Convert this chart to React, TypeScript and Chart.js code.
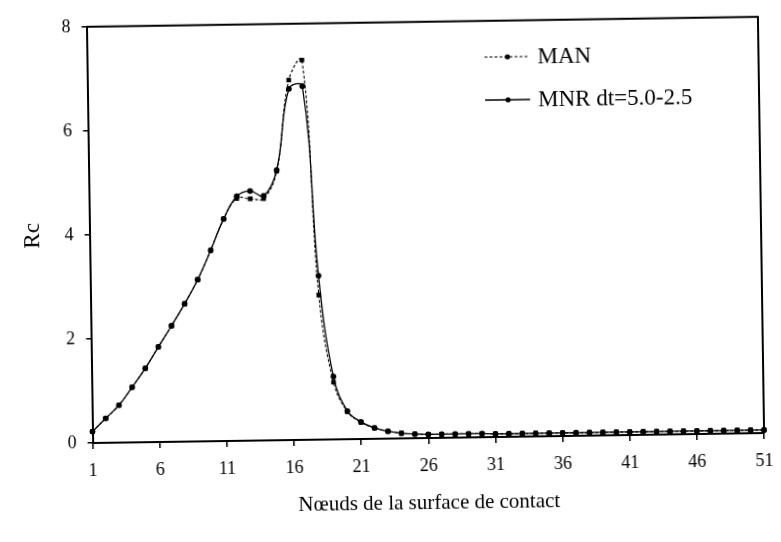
import React, { useEffect, useRef } from 'react';
import { Chart, registerables } from 'chart.js';

Chart.register(...registerables);

const nodes = [
  '1', '2', '3', '4', '5', '6', '7', '8', '9', '10',
  '11', '12', '13', '14', '15', '16', '17', '18', '19', '20',
  '21', '22', '23', '24', '25', '26', '27', '28', '29', '30',
  '31', '32', '33', '34', '35', '36', '37', '38', '39', '40',
  '41', '42', '43', '44', '45', '46', '47', '48', '49', '50', '51',
];

const xTickLabels = ['1', '6', '11', '16', '21', '26', '31', '36', '41', '46', '51'];

const manValues = [
  0.22, 0.47, 0.72, 1.06, 1.42, 1.83, 2.23, 2.65, 3.11, 3.67,
  4.27, 4.66, 4.65, 4.65, 5.17, 6.92, 7.30, 2.78, 1.10, 0.53,
  0.32, 0.21, 0.14, 0.10, 0.08, 0.07, 0.07, 0.07, 0.07, 0.07,
  0.06, 0.06, 0.06, 0.06, 0.06, 0.06, 0.06, 0.06, 0.06, 0.06,
  0.06, 0.06, 0.06, 0.06, 0.06, 0.06, 0.06, 0.06, 0.06, 0.06, 0.06,
];

const mnrValues = [
  0.22, 0.47, 0.72, 1.06, 1.42, 1.83, 2.23, 2.65, 3.11, 3.67,
  4.27, 4.70, 4.80, 4.70, 5.19, 6.75, 6.80, 3.15, 1.21, 0.54,
  0.33, 0.21, 0.14, 0.10, 0.08, 0.07, 0.07, 0.07, 0.07, 0.07,
  0.06, 0.06, 0.06, 0.06, 0.06, 0.06, 0.06, 0.06, 0.06, 0.06,
  0.06, 0.06, 0.06, 0.06, 0.06, 0.06, 0.06, 0.06, 0.06, 0.06, 0.06,
];

const seriesNames = ['MAN', 'MNR dt=5.0-2.5'];
const xTitle = 'Nœuds de la surface de contact';
const yTitle = 'Rc';
const yMin = 0;
const yMax = 8;
const yStep = 2;

const FONT = '"Liberation Serif", "DejaVu Serif", serif';

const frameAndLegend = {
  id: 'frameAndLegend',
  beforeDatasetsDraw(chart: any) {
    const { ctx, chartArea: a } = chart;
    ctx.save();
    ctx.strokeStyle = '#000';
    ctx.lineWidth = 2;
    ctx.beginPath();
    ctx.moveTo(a.left, a.top);
    ctx.lineTo(a.right, a.top);
    ctx.lineTo(a.right, a.bottom);
    ctx.stroke();
    ctx.restore();
  },
  afterDraw(chart: any) {
    const { ctx } = chart;
    ctx.save();
    chart.data.datasets.forEach((ds: any, i: number) => {
      const y = 58 + i * 43;
      ctx.strokeStyle = '#000';
      ctx.lineWidth = ds.borderWidth;
      ctx.setLineDash(ds.borderDash || []);
      ctx.beginPath();
      ctx.moveTo(487, y);
      ctx.lineTo(532, y);
      ctx.stroke();
      ctx.setLineDash([]);
      ctx.fillStyle = '#000';
      ctx.beginPath();
      ctx.arc(510, y, 2.6, 0, Math.PI * 2);
      ctx.fill();
      ctx.font = `23px ${FONT}`;
      ctx.textBaseline = 'middle';
      ctx.textAlign = 'left';
      ctx.fillText(ds.label, 540, y + 1);
    });
    ctx.restore();
  },
};

export default function App() {
  const ref = useRef<HTMLCanvasElement | null>(null);

  useEffect(() => {
    if (!ref.current) return;
    const chart = new Chart(ref.current, {
      type: 'line',
      data: {
        labels: nodes,
        datasets: [
          {
            label: seriesNames[0],
            data: manValues,
            borderColor: '#000',
            borderWidth: 1.1,
            borderDash: [3, 2],
            pointStyle: 'rect',
            pointRadius: 3.3,
            pointBackgroundColor: '#000',
            pointBorderColor: '#000',
            pointBorderWidth: 0,
            tension: 0.4,
            fill: false,
          },
          {
            label: seriesNames[1],
            data: mnrValues,
            borderColor: '#000',
            borderWidth: 1.3,
            pointStyle: 'circle',
            pointRadius: 2.9,
            pointBackgroundColor: '#000',
            pointBorderColor: '#000',
            pointBorderWidth: 0,
            tension: 0.4,
            fill: false,
          },
        ],
      },
      options: {
        responsive: false,
        animation: false,
        layout: { padding: { left: 0, right: 14.5, top: 17, bottom: 0 } },
        plugins: {
          legend: { display: false },
          tooltip: { enabled: false },
        },
        scales: {
          x: {
            type: 'category',
            offset: false,
            afterFit: (s: any) => { s.height = 104; },
            border: { display: true, color: '#000', width: 2 },
            grid: {
              display: true,
              drawOnChartArea: false,
              drawTicks: true,
              tickLength: 6,
              color: '#000',
              lineWidth: 1.5,
            },
            ticks: {
              autoSkip: false,
              maxRotation: 0,
              padding: 11,
              color: '#000',
              font: { family: FONT, size: 18 },
              callback: function (this: any, value: any) {
                const lbl = this.getLabelForValue(value);
                return xTickLabels.includes(lbl) ? lbl : null;
              },
            },
            title: {
              display: true,
              text: xTitle,
              color: '#000',
              font: { family: FONT, size: 21 },
              padding: { top: 0, bottom: 26 },
            },
          },
          y: {
            min: yMin,
            max: yMax,
            afterFit: (s: any) => { s.width = 89.5; },
            border: { display: true, color: '#000', width: 2 },
            grid: {
              display: true,
              drawOnChartArea: false,
              drawTicks: true,
              tickLength: 5,
              color: '#000',
              lineWidth: 1.5,
            },
            ticks: {
              stepSize: yStep,
              padding: 11,
              color: '#000',
              font: { family: FONT, size: 18 },
            },
            title: {
              display: true,
              text: yTitle,
              color: '#000',
              font: { family: FONT, size: 23 },
              padding: { top: 19, bottom: 0 },
            },
          },
        },
      },
      plugins: [frameAndLegend],
    } as any);
    return () => chart.destroy();
  }, []);

  return (
    <div
      style={{
        position: 'absolute',
        left: 0,
        top: 0,
        width: 781,
        height: 542,
        background: '#fff',
        transform: 'rotate(-0.85deg)',
        transformOrigin: '428px 227.5px',
      }}
    >
      <canvas ref={ref} width={781} height={542} style={{ display: 'block' }} />
    </div>
  );
}
